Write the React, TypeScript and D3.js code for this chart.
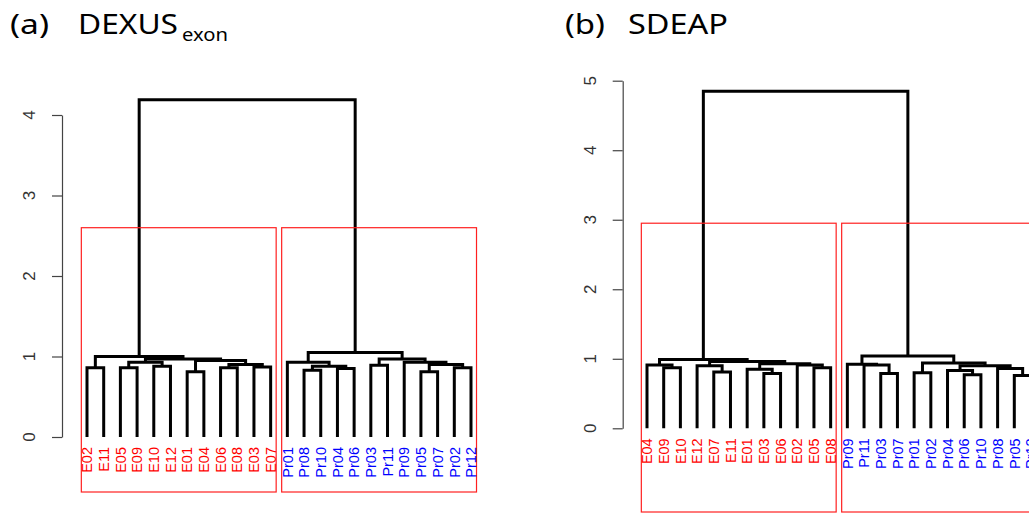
import React, { useEffect, useRef } from 'react';
import * as d3 from 'd3';

// leaf order as drawn, left to right
const leavesA = ['E02', 'E11', 'E05', 'E09', 'E10', 'E12', 'E01', 'E04', 'E06', 'E08', 'E03', 'E07',
  'Pr01', 'Pr08', 'Pr10', 'Pr04', 'Pr06', 'Pr03', 'Pr11', 'Pr09', 'Pr05', 'Pr07', 'Pr02', 'Pr12'];
const leavesB = ['E04', 'E09', 'E10', 'E12', 'E07', 'E11', 'E01', 'E03', 'E06', 'E02', 'E05', 'E08',
  'Pr09', 'Pr11', 'Pr03', 'Pr07', 'Pr01', 'Pr02', 'Pr04', 'Pr06', 'Pr10', 'Pr08', 'Pr05', 'Pr12'];

// hclust-like merges: negative = leaf (1-based), positive = earlier merge (1-based), then height
const mergesA: [number, number, number][] = [
  [-7, -8, 0.81], [-21, -22, 0.81], [-14, -15, 0.83], [-16, -17, 0.85], [-1, -2, 0.86],
  [-3, -4, 0.86], [-9, -10, 0.86], [-23, -24, 0.86], [-11, -12, 0.87], [-18, -19, 0.89],
  [3, 4, 0.88], [-5, -6, 0.88], [7, 9, 0.9], [2, 8, 0.9], [6, 12, 0.93],
  [-13, 11, 0.93], [-20, 14, 0.93], [1, 13, 0.95], [10, 17, 0.97], [15, 18, 0.97],
  [5, 20, 1.0], [16, 19, 1.05], [21, 22, 4.19],
];
const mergesB: [number, number, number][] = [
  [-2, -3, 0.87], [-1, 1, 0.91], [-5, -6, 0.81], [-4, 3, 0.9], [-8, -9, 0.79],
  [-7, 5, 0.85], [-11, -12, 0.87], [-10, 7, 0.91], [6, 8, 0.93], [4, 9, 0.96],
  [2, 10, 0.99], [-15, -16, 0.79], [-14, 12, 0.91], [-13, 13, 0.92], [-17, -18, 0.8],
  [-20, -21, 0.77], [-19, 16, 0.83], [-23, -24, 0.76], [-22, 18, 0.86], [17, 19, 0.9],
  [15, 20, 0.94], [14, 21, 1.04], [11, 22, 4.85],
];

const ticksA = [0, 1, 2, 3, 4];
const ticksB = [0, 1, 2, 3, 4, 5];

// k = 2 clusters: leaf index ranges, and the cut height of the boxes
const clustersA = [[0, 11], [12, 23]];
const clustersB = [[0, 11], [12, 23]];
const cutA = 2.6;
const cutB = 2.95;

interface Panel {
  x0: number; x1: number; yBase: number; yTop: number; yMax: number;
  axisX: number; boxBottom: number;
}

const panelA: Panel = { x0: 87, x1: 471, yBase: 437, yTop: 115, yMax: 4, axisX: 62, boxBottom: 492 };
const panelB: Panel = { x0: 647, x1: 1031, yBase: 428.3, yTop: 80.7, yMax: 5, axisX: 622.7, boxBottom: 512 };

function drawPanel(svg: any, p: Panel, leaves: string[], merges: [number, number, number][],
  ticks: number[], clusters: number[][], cut: number) {
  const x = d3.scaleLinear().domain([0, leaves.length - 1]).range([p.x0, p.x1]);
  const y = d3.scaleLinear().domain([0, p.yMax]).range([p.yBase, p.yTop]);
  const step = x(1) - x(0);
  const g = svg.append('g');

  // y axis
  const ax = g.append('g')
    .attr('transform', `translate(${p.axisX},0)`)
    .call(d3.axisLeft(y).tickValues(ticks).tickSize(10).tickSizeOuter(0).tickFormat(() => ''));
  ax.select('.domain').attr('stroke', '#444').attr('stroke-width', 1.2);
  ax.selectAll('.tick line').attr('stroke', '#444').attr('stroke-width', 1.2);

  g.selectAll('.ytl')
    .data(ticks)
    .join('text')
    .attr('transform', (d: number) => `translate(${p.axisX - 33},${y(d)}) rotate(-90)`)
    .attr('text-anchor', 'middle')
    .attr('dy', '0.35em')
    .attr('font-family', 'Liberation Sans, Arial, sans-serif')
    .attr('font-size', 17)
    .attr('fill', '#333')
    .text((d: number) => d);

  // node positions
  const nx: number[] = [];
  const nh: number[] = [];
  const pos = (c: number) => (c < 0 ? [x(-c - 1), 0] : [nx[c - 1], nh[c - 1]]);
  const paths: string[] = [];
  merges.forEach(([a, b, h]) => {
    const [xa, ha] = pos(a);
    const [xb, hb] = pos(b);
    paths.push(`M${xa},${y(ha)}V${y(h)}H${xb}V${y(hb)}`);
    nx.push((xa + xb) / 2);
    nh.push(h);
  });

  g.selectAll('.branch')
    .data(paths)
    .join('path')
    .attr('d', (d: string) => d)
    .attr('fill', 'none')
    .attr('stroke', '#000')
    .attr('stroke-width', 3)
    .attr('stroke-linejoin', 'miter');

  // cluster boxes
  g.selectAll('.box')
    .data(clusters)
    .join('rect')
    .attr('x', (d: number[]) => x(d[0]) - 0.34 * step)
    .attr('y', y(cut))
    .attr('width', (d: number[]) => x(d[1]) - x(d[0]) + 0.67 * step)
    .attr('height', p.boxBottom - y(cut))
    .attr('fill', 'none')
    .attr('stroke', '#ff2020')
    .attr('stroke-width', 1.2);

  // leaf labels
  g.selectAll('.leaf')
    .data(leaves)
    .join('text')
    .attr('transform', (_d: string, i: number) => `translate(${x(i)},${p.yBase + 10}) rotate(-90)`)
    .attr('text-anchor', 'end')
    .attr('dy', '0.36em')
    .attr('font-family', 'Liberation Sans, Arial, sans-serif')
    .attr('font-size', 14.5)
    .attr('fill', (d: string) => (d.startsWith('E') ? '#ff0000' : '#0000ff'))
    .text((d: string) => d);
}

export default function App() {
  const ref = useRef<SVGSVGElement>(null);

  useEffect(() => {
    const svg = d3.select(ref.current);
    svg.selectAll('*').remove();

    drawPanel(svg, panelA, leavesA, mergesA, ticksA, clustersA, cutA);
    drawPanel(svg, panelB, leavesB, mergesB, ticksB, clustersB, cutB);

    // titles
    const font = 'Noto Sans, Open Sans, sans-serif';
    const t = svg.append('g').attr('fill', '#000').attr('font-family', font);
    t.append('text').attr('x', 10).attr('y', 33.5).attr('font-size', 27)
      .attr('textLength', 39).attr('lengthAdjust', 'spacingAndGlyphs').text('(a)');
    t.append('text').attr('x', 78).attr('y', 33.5).attr('font-size', 27)
      .attr('textLength', 100).attr('lengthAdjust', 'spacingAndGlyphs').text('DEXUS');
    t.append('text').attr('x', 182).attr('y', 41).attr('font-size', 18)
      .attr('textLength', 46).attr('lengthAdjust', 'spacingAndGlyphs').text('exon');
    t.append('text').attr('x', 565).attr('y', 33.5).attr('font-size', 27)
      .attr('textLength', 40).attr('lengthAdjust', 'spacingAndGlyphs').text('(b)');
    t.append('text').attr('x', 628).attr('y', 33.5).attr('font-size', 27)
      .attr('textLength', 100).attr('lengthAdjust', 'spacingAndGlyphs').text('SDEAP');
  }, []);

  return (
    <svg ref={ref} width={1029} height={523}
      style={{ position: 'absolute', left: 0, top: 0, background: '#fff' }} />
  );
}
